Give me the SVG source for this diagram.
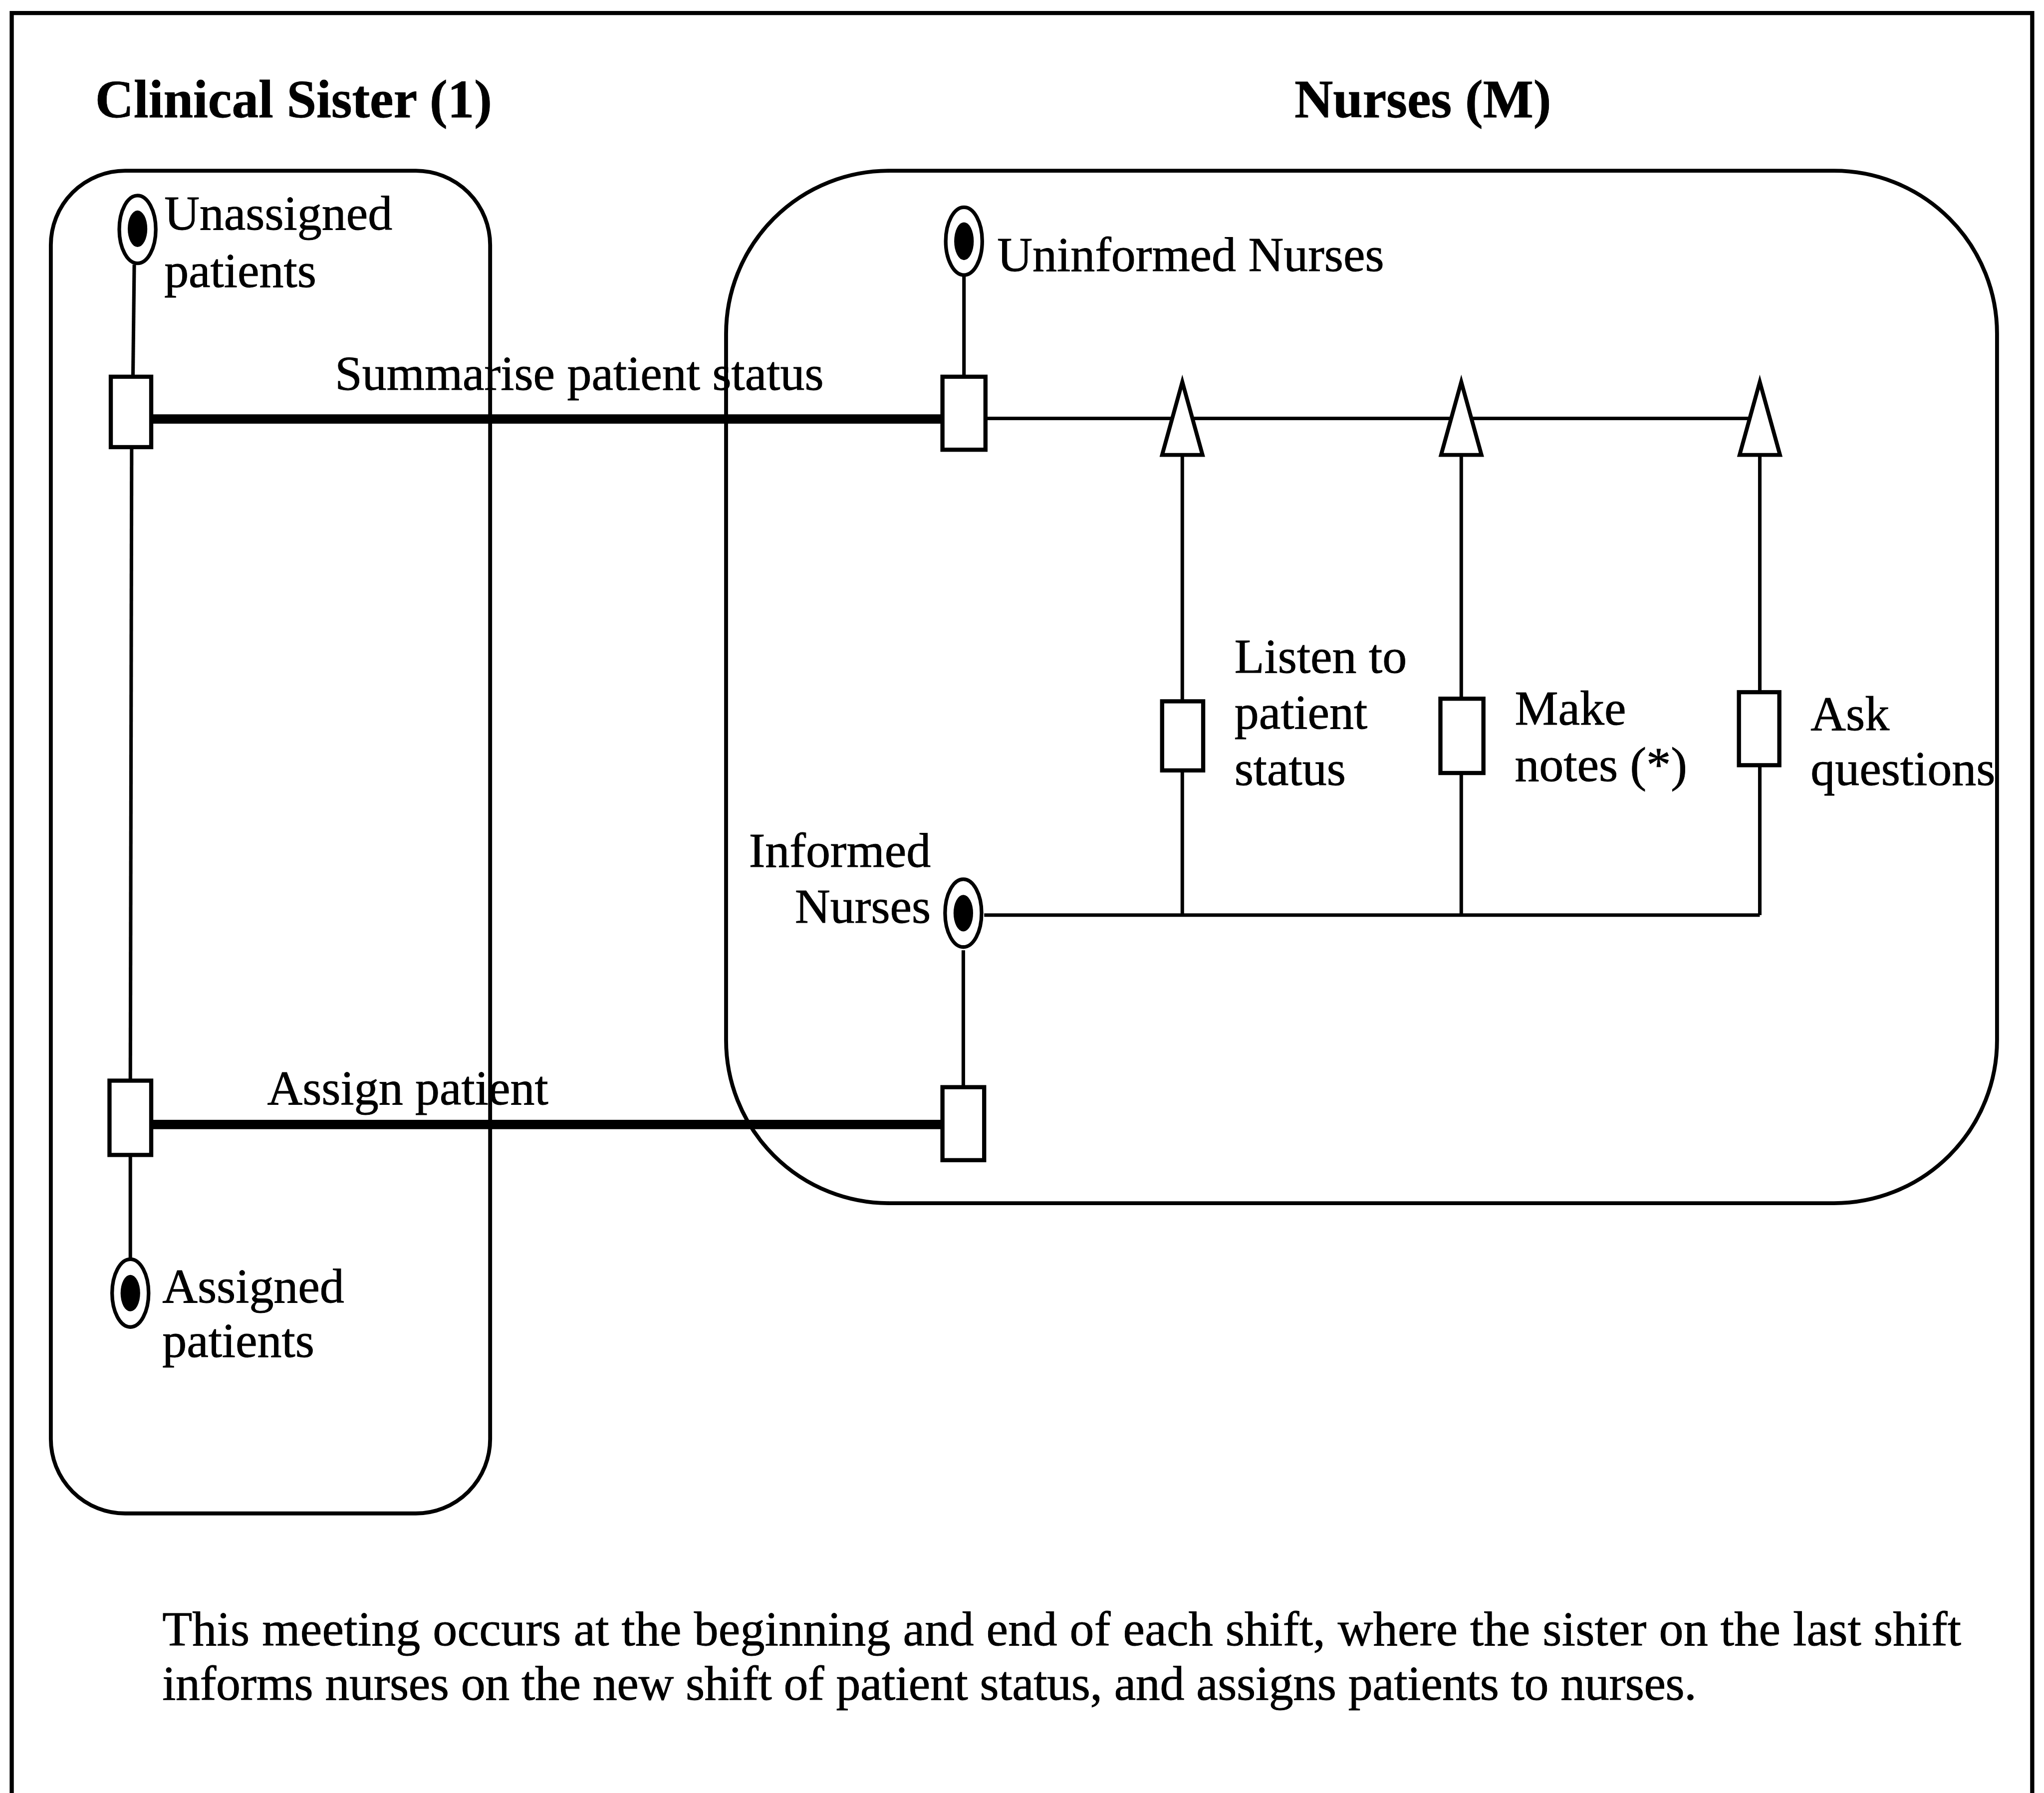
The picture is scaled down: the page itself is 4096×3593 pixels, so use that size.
<svg xmlns="http://www.w3.org/2000/svg" width="4096" height="3593" viewBox="0 0 4096 3593">
  <style>
    .frame { fill: none; stroke: #000; stroke-width: 3.2; }
    .lane { fill: none; stroke: #000; stroke-width: 3; }
    .box { fill: #fff; stroke: #000; stroke-width: 3.2; }
    .state-ring { fill: #fff; stroke: #000; stroke-width: 2.8; }
    .state-dot { fill: #000; }
    .flow { fill: none; stroke: #000; stroke-width: 2.7; }
    .msg { fill: none; stroke: #000; stroke-width: 7.2; }
    .head { font-family: "Liberation Serif", "Times New Roman", serif; font-weight: bold; font-size: 41px; fill: #000; stroke: #000; stroke-width: 0.3; }
    .lbl { font-family: "Liberation Serif", "Times New Roman", serif; font-size: 37.5px; fill: #000; stroke: #000; stroke-width: 0.35; }
  </style>
  <defs>
    <marker id="hollow" markerUnits="userSpaceOnUse" viewBox="-3 -3 62 37" markerWidth="62" markerHeight="37" refX="56" refY="15.5" orient="auto" overflow="visible">
      <polygon points="0,0 56,15.5 0,31" fill="#fff" stroke="#000" stroke-width="3" stroke-linejoin="miter"/>
    </marker>
  </defs>
  <rect width="4096" height="3593" fill="#fff"/>
  <g transform="scale(2.6122)">
    <!-- page frame (open at the bottom) -->
    <path class="frame" d="M9,1380 V10 H1559 V1380"/>

    <!-- swimlanes -->
    <g id="lane-sister">
      <rect class="lane" x="39" y="131" width="337" height="1030" rx="57" ry="57"/>
      <text class="head" x="73" y="90">Clinical Sister (1)</text>
    </g>
    <g id="lane-nurses">
      <rect class="lane" x="557" y="131" width="975" height="792" rx="125" ry="125"/>
      <text class="head" x="993" y="90">Nurses (M)</text>
    </g>

    <!-- connectors -->
    <g id="connectors">
      <!-- sister lifeline -->
      <path class="flow" d="M103,203 L102,289"/>
      <path class="flow" d="M101,343 L100,829"/>
      <path class="flow" d="M100,886 L100,966"/>
      <!-- nurse lifelines -->
      <path class="flow" d="M739.5,212 V289"/>
      <path class="flow" d="M739,729 V834"/>
      <!-- shared transitions between roles -->
      <path class="msg" d="M117,321.4 H723"/>
      <path class="msg" d="M116,862.6 H723"/>
      <!-- joins -->
      <path class="flow" d="M756,321 H1350"/>
      <path class="flow" d="M755,702 H1350"/>
      <!-- activity lines up to the join -->
      <path class="flow" d="M907,702 V591"/>
      <path class="flow" d="M907,538 V293" marker-end="url(#hollow)"/>
      <path class="flow" d="M1121,702 V593"/>
      <path class="flow" d="M1121,536 V293" marker-end="url(#hollow)"/>
      <path class="flow" d="M1350,702 V587"/>
      <path class="flow" d="M1350,531 V293" marker-end="url(#hollow)"/>
    </g>

    <!-- states -->
    <g id="state-unassigned">
      <ellipse class="state-ring" cx="105.5" cy="176" rx="14" ry="26"/>
      <ellipse class="state-dot" cx="105.5" cy="175.5" rx="7.5" ry="14"/>
      <text class="lbl" x="126" y="176">Unassigned</text>
      <text class="lbl" x="126" y="220">patients</text>
    </g>
    <g id="state-assigned">
      <ellipse class="state-ring" cx="100" cy="992" rx="14" ry="26"/>
      <ellipse class="state-dot" cx="100" cy="992" rx="7.5" ry="14"/>
      <text class="lbl" x="124.5" y="999">Assigned</text>
      <text class="lbl" x="124.5" y="1041">patients</text>
    </g>
    <g id="state-uninformed">
      <ellipse class="state-ring" cx="739.5" cy="185" rx="14" ry="26"/>
      <ellipse class="state-dot" cx="739.5" cy="185" rx="7.5" ry="14.5"/>
      <text class="lbl" x="765" y="208">Uninformed Nurses</text>
    </g>
    <g id="state-informed">
      <ellipse class="state-ring" cx="739" cy="700.5" rx="14" ry="26"/>
      <ellipse class="state-dot" cx="739" cy="700.5" rx="7.5" ry="14"/>
      <text class="lbl" x="714" y="665" text-anchor="end">Informed</text>
      <text class="lbl" x="714" y="708" text-anchor="end">Nurses</text>
    </g>

    <!-- activities -->
    <g id="act-summarise">
      <rect class="box" x="85" y="289" width="31" height="54"/>
      <rect class="box" x="723" y="289" width="33" height="56"/>
      <text class="lbl" x="257" y="299">Summarise patient status</text>
    </g>
    <g id="act-assign">
      <rect class="box" x="84" y="829" width="32" height="57"/>
      <rect class="box" x="723" y="834" width="32" height="56"/>
      <text class="lbl" x="205" y="847">Assign patient</text>
    </g>
    <g id="act-listen">
      <rect class="box" x="891.5" y="538" width="31.5" height="53"/>
      <text class="lbl" x="947" y="516">Listen to</text>
      <text class="lbl" x="947" y="559">patient</text>
      <text class="lbl" x="947" y="602">status</text>
    </g>
    <g id="act-notes">
      <rect class="box" x="1105" y="536" width="33" height="57"/>
      <text class="lbl" x="1162" y="556">Make</text>
      <text class="lbl" x="1162" y="599">notes (*)</text>
    </g>
    <g id="act-questions">
      <rect class="box" x="1334" y="531" width="31" height="56"/>
      <text class="lbl" x="1389" y="560">Ask</text>
      <text class="lbl" x="1389" y="602">questions</text>
    </g>

    <!-- caption -->
    <g id="caption">
      <text class="lbl" x="124.5" y="1262" textLength="1380" lengthAdjust="spacing">This meeting occurs at the beginning and end of each shift, where the sister on the last shift</text>
      <text class="lbl" x="124.5" y="1304" textLength="1177" lengthAdjust="spacing">informs nurses on the new shift of patient status, and assigns patients to nurses.</text>
    </g>
  </g>
</svg>
